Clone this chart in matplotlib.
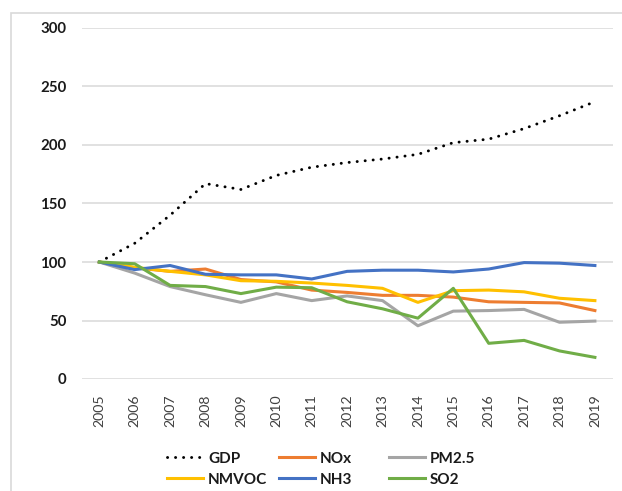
import matplotlib
matplotlib.use('Agg')
import matplotlib.pyplot as plt
from matplotlib.patches import Rectangle

plt.rcParams['font.family'] = ['Lato', 'DejaVu Sans']

# Data (index, 2005 = 100)
years = [str(y) for y in range(2005, 2020)]
gdp = [100, 116, 140, 167, 162, 174, 181, 185, 188, 192, 202, 205, 214, 225, 237]
nox = [100, 95, 92, 94, 85, 83, 76, 74, 71.5, 71.5, 70, 66, 65.5, 65, 58.5]
pm25 = [100, 90.5, 79, 72, 65.5, 73, 67, 71, 67, 45.5, 58, 58.5, 59.5, 48.5, 49.5]
nmvoc = [100, 95.5, 92, 89, 84, 83.5, 82, 80, 77.5, 65.5, 75.5, 76, 74.5, 69, 67]
nh3 = [100, 93.5, 97, 89.5, 89, 89, 85.5, 92, 93, 93, 91.5, 94, 99.5, 99, 97]
so2 = [100, 98.5, 80, 79, 73, 78.5, 78, 66, 60, 52, 77.5, 30.5, 33, 24, 18.5]

W, H = 622, 491
fig = plt.figure(figsize=(W / 100, H / 100), dpi=100)

# light outer frame like the Excel chart area
fig.patches.append(Rectangle((11 / W, -0.1), 2, 1 - 13 / H + 0.1, transform=fig.transFigure,
                             fill=False, edgecolor='#d9d9d9', linewidth=1.2))

ax = fig.add_axes([81.6 / W, 1 - 379 / H, 531 / W, 351 / H])
x = range(len(years))

l_gdp, = ax.plot(x, gdp, color='black', lw=2.1, linestyle=(0, (0.05, 2.7)),
                 dash_capstyle='round', label='GDP')
l_nox, = ax.plot(x, nox, color='#ED7D31', lw=2.2, label='NOx')
l_pm, = ax.plot(x, pm25, color='#A5A5A5', lw=2.2, label='PM2.5')
l_voc, = ax.plot(x, nmvoc, color='#FFC000', lw=2.2, label='NMVOC')
l_nh3, = ax.plot(x, nh3, color='#4472C4', lw=2.2, label='NH3')
l_so2, = ax.plot(x, so2, color='#70AD47', lw=2.2, label='SO2')

ax.set_xlim(-0.5, len(years) - 0.5)
ax.set_ylim(0, 300)
ax.set_yticks(range(0, 301, 50))
ax.set_xticks(list(x))
ax.set_xticklabels(years, rotation=90, fontsize=10.2, color='#404040')
for t in ax.get_yticklabels():
    t.set_fontsize(10.8)
    t.set_fontweight('bold')
    t.set_color('#1a1a1a')
ax.tick_params(length=0)
ax.tick_params(axis='y', pad=11)
ax.tick_params(axis='x', pad=11)
ax.grid(axis='y', color='#d9d9d9', lw=1.1)
ax.set_axisbelow(True)
for s in ax.spines.values():
    s.set_visible(False)

# legend: three columns of two entries
cols = [((l_gdp, l_voc), 153), ((l_nox, l_nh3), 265), ((l_pm, l_so2), 375)]
for handles, px in cols:
    leg = fig.legend(handles, [h.get_label() for h in handles], loc='upper left',
                     bbox_to_anchor=(px / W, 1 - 438 / H), frameon=False,
                     handlelength=2.4, handletextpad=0.3, labelspacing=0.45,
                     prop={'size': 11, 'weight': 'bold'})
    for t in leg.get_texts():
        t.set_color('#1a1a1a')

fig.savefig('out.png', dpi=100)
